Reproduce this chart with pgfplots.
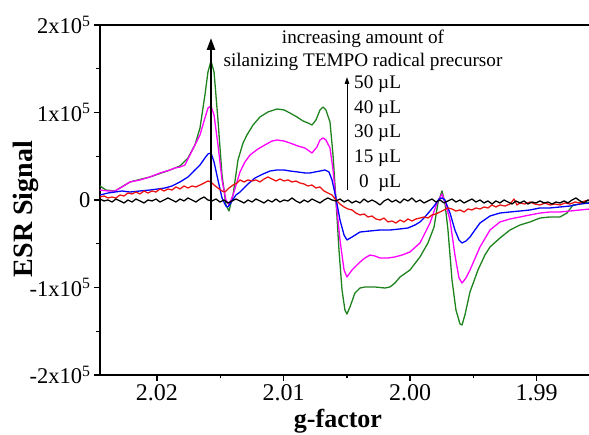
\documentclass[border=0pt]{standalone}
\usepackage{fontspec}
\setmainfont{Liberation Serif}
\usepackage{pgfplots}
\pgfplotsset{compat=1.18}
\usetikzlibrary{arrows.meta}
\definecolor{cgreen}{RGB}{30,130,30}
\definecolor{cmag}{RGB}{255,0,255}
\definecolor{cblue}{RGB}{0,0,255}
\definecolor{cred}{RGB}{235,20,20}
\begin{document}
\begin{tikzpicture}
\begin{axis}[
  scale only axis, width=490pt, height=350pt,
  at={(0pt,0pt)}, anchor=south west,
  x dir=reverse, xmin=1.98579, xmax=2.02450, ymin=-2, ymax=2,
  axis line style={line width=1.6pt},
  tick align=outside, tick pos=left,
  major tick length=6pt, minor tick length=3.5pt,
  every tick/.style={black, line width=1.4pt},
  xtick={2.02,2.01,2.00,1.99}, xticklabels={2.02,2.01,2.00,1.99},
  minor xtick={2.015,2.005,1.995},
  ytick={-2,-1,0,1,2},
  yticklabels={-2x10\textsuperscript{5},-1x10\textsuperscript{5},0,1x10\textsuperscript{5},2x10\textsuperscript{5}},
  minor ytick={-1.5,-0.5,0.5,1.5},
  xticklabel style={font=\fontsize{24}{24}\selectfont},
  yticklabel style={font=\fontsize{22.5}{22.5}\selectfont},
  every axis plot/.append style={line width=1.3pt, line join=round},
  clip=true,
]
% 50 uL
\addplot[cgreen] coordinates {
(2.02450,0.160)(2.02403,0.114)(2.02332,0.103)(2.02213,0.206)(2.02055,0.263)(2.01897,0.343)(2.01818,0.389)(2.01755,0.480)(2.01700,0.629)(2.01660,0.823)(2.01621,1.200)(2.01597,1.463)(2.01573,1.589)(2.01549,1.463)(2.01518,0.914)(2.01486,0.286)(2.01455,-0.057)(2.01431,-0.126)(2.01399,0.057)(2.01360,0.457)(2.01320,0.651)(2.01289,0.743)(2.01241,0.857)(2.01186,0.949)(2.01123,1.006)(2.01052,1.040)(2.00996,1.029)(2.00949,0.994)(2.00894,0.949)(2.00846,0.903)(2.00807,0.880)(2.00775,0.857)(2.00744,0.914)(2.00712,1.029)(2.00688,1.063)(2.00665,1.029)(2.00633,0.891)(2.00609,0.514)(2.00586,0)(2.00562,-0.571)(2.00538,-1.029)(2.00515,-1.257)(2.00499,-1.303)(2.00475,-1.223)(2.00436,-1.063)(2.00396,-1.006)(2.00357,-0.994)(2.00278,-0.994)(2.00199,-1.006)(2.00159,-0.994)(2.00120,-0.949)(2.00080,-0.880)(2.00001,-0.800)(1.99922,-0.651)(1.99859,-0.491)(1.99811,-0.309)(1.99780,-0.034)(1.99748,0.103)(1.99725,-0.034)(1.99701,-0.343)(1.99669,-0.914)(1.99638,-1.257)(1.99606,-1.417)(1.99590,-1.429)(1.99567,-1.314)(1.99527,-1.051)(1.99464,-0.800)(1.99409,-0.629)(1.99369,-0.537)(1.99290,-0.434)(1.99211,-0.343)(1.99132,-0.286)(1.99053,-0.251)(1.98974,-0.206)(1.98895,-0.194)(1.98816,-0.194)(1.98761,-0.149)(1.98713,-0.057)(1.98658,-0.046)(1.98579,-0.023)
};
% 40 uL
\addplot[cmag] coordinates {
(2.02450,0.114)(2.02387,0.103)(2.02332,0.103)(2.02276,0.149)(2.02213,0.206)(2.02134,0.229)(2.02055,0.263)(2.01976,0.309)(2.01897,0.343)(2.01858,0.366)(2.01818,0.377)(2.01779,0.400)(2.01739,0.514)(2.01700,0.629)(2.01660,0.743)(2.01621,0.937)(2.01597,1.051)(2.01573,1.074)(2.01549,0.971)(2.01518,0.629)(2.01486,0.229)(2.01455,0)(2.01431,-0.057)(2.01399,0.057)(2.01344,0.320)(2.01305,0.434)(2.01265,0.514)(2.01202,0.583)(2.01147,0.629)(2.01091,0.674)(2.01052,0.686)(2.00996,0.674)(2.00949,0.651)(2.00886,0.617)(2.00831,0.594)(2.00775,0.537)(2.00736,0.606)(2.00712,0.686)(2.00688,0.709)(2.00665,0.686)(2.00633,0.594)(2.00609,0.343)(2.00586,0)(2.00554,-0.457)(2.00522,-0.800)(2.00499,-0.880)(2.00459,-0.800)(2.00396,-0.709)(2.00357,-0.663)(2.00317,-0.629)(2.00278,-0.640)(2.00238,-0.663)(2.00175,-0.663)(2.00120,-0.651)(2.00064,-0.629)(2.00001,-0.594)(1.99922,-0.491)(1.99843,-0.263)(1.99788,-0.034)(1.99748,0.069)(1.99717,-0.057)(1.99685,-0.229)(1.99646,-0.629)(1.99614,-0.891)(1.99590,-0.949)(1.99559,-0.891)(1.99527,-0.800)(1.99448,-0.537)(1.99369,-0.343)(1.99290,-0.251)(1.99211,-0.217)(1.99132,-0.194)(1.99053,-0.171)(1.98974,-0.149)(1.98895,-0.137)(1.98816,-0.137)(1.98737,-0.126)(1.98658,-0.114)(1.98579,-0.103)
};
% 30 uL
\addplot[cblue] coordinates {
(2.02450,0.057)(2.02387,0.080)(2.02332,0.091)(2.02276,0.103)(2.02213,0.091)(2.02134,0.103)(2.02055,0.114)(2.01992,0.126)(2.01937,0.137)(2.01881,0.160)(2.01818,0.206)(2.01755,0.263)(2.01700,0.343)(2.01660,0.400)(2.01621,0.480)(2.01597,0.526)(2.01573,0.537)(2.01549,0.434)(2.01518,0.229)(2.01486,0.023)(2.01455,-0.069)(2.01439,-0.080)(2.01407,-0.011)(2.01376,0.057)(2.01344,0.091)(2.01281,0.183)(2.01226,0.251)(2.01162,0.297)(2.01107,0.331)(2.01052,0.343)(2.00996,0.343)(2.00949,0.331)(2.00886,0.320)(2.00831,0.309)(2.00791,0.309)(2.00752,0.320)(2.00712,0.331)(2.00673,0.343)(2.00641,0.320)(2.00617,0.229)(2.00586,0.023)(2.00554,-0.229)(2.00522,-0.400)(2.00499,-0.457)(2.00459,-0.423)(2.00396,-0.366)(2.00317,-0.354)(2.00238,-0.343)(2.00159,-0.343)(2.00080,-0.331)(2.00017,-0.320)(1.99962,-0.286)(1.99922,-0.251)(1.99883,-0.194)(1.99843,-0.126)(1.99804,-0.057)(1.99772,0.011)(1.99748,0.023)(1.99725,0)(1.99685,-0.149)(1.99646,-0.343)(1.99614,-0.457)(1.99590,-0.491)(1.99559,-0.469)(1.99527,-0.423)(1.99488,-0.343)(1.99448,-0.263)(1.99369,-0.183)(1.99290,-0.149)(1.99211,-0.137)(1.99132,-0.126)(1.99053,-0.114)(1.98974,-0.091)(1.98895,-0.091)(1.98816,-0.080)(1.98737,-0.069)(1.98658,-0.046)(1.98579,-0.034)
};
% 15 uL
\addplot[cred] coordinates {
(2.02450,0.034)(2.02418,0.046)(2.02387,0.023)(2.02355,0.034)(2.02324,0.023)(2.02292,0.057)(2.02260,0.046)(2.02229,0.080)(2.02197,0.069)(2.02166,0.091)(2.02134,0.069)(2.02102,0.103)(2.02071,0.080)(2.02039,0.103)(2.02008,0.091)(2.01976,0.126)(2.01944,0.103)(2.01913,0.126)(2.01881,0.114)(2.01850,0.149)(2.01818,0.126)(2.01786,0.160)(2.01755,0.137)(2.01723,0.160)(2.01692,0.149)(2.01660,0.171)(2.01628,0.194)(2.01597,0.217)(2.01573,0.206)(2.01549,0.171)(2.01518,0.137)(2.01486,0.103)(2.01463,0.091)(2.01431,0.137)(2.01399,0.171)(2.01368,0.194)(2.01344,0.229)(2.01312,0.206)(2.01281,0.229)(2.01249,0.217)(2.01218,0.229)(2.01186,0.206)(2.01154,0.240)(2.01123,0.263)(2.01091,0.240)(2.01060,0.217)(2.01028,0.240)(2.00996,0.217)(2.00965,0.229)(2.00933,0.206)(2.00902,0.217)(2.00870,0.194)(2.00838,0.183)(2.00807,0.160)(2.00775,0.171)(2.00744,0.137)(2.00712,0.149)(2.00680,0.103)(2.00649,0.080)(2.00617,0.057)(2.00586,0)(2.00554,-0.046)(2.00522,-0.080)(2.00491,-0.103)(2.00459,-0.114)(2.00428,-0.149)(2.00396,-0.171)(2.00364,-0.160)(2.00333,-0.194)(2.00301,-0.183)(2.00270,-0.217)(2.00238,-0.229)(2.00206,-0.206)(2.00175,-0.251)(2.00143,-0.240)(2.00112,-0.263)(2.00080,-0.229)(2.00048,-0.251)(2.00017,-0.217)(1.99985,-0.240)(1.99954,-0.217)(1.99922,-0.206)(1.99890,-0.194)(1.99859,-0.206)(1.99827,-0.171)(1.99796,-0.160)(1.99764,-0.137)(1.99732,-0.114)(1.99701,-0.091)(1.99669,-0.103)(1.99638,-0.126)(1.99606,-0.114)(1.99574,-0.137)(1.99543,-0.103)(1.99511,-0.114)(1.99480,-0.091)(1.99448,-0.103)(1.99416,-0.080)(1.99385,-0.091)(1.99353,-0.057)(1.99322,-0.080)(1.99290,-0.057)(1.99251,-0.069)(1.99211,-0.046)(1.99179,0.011)(1.99156,-0.057)(1.99132,-0.034)(1.99093,-0.046)(1.99053,-0.023)(1.99014,-0.046)(1.98974,-0.057)(1.98935,-0.034)(1.98895,-0.057)(1.98856,-0.046)(1.98816,-0.057)(1.98777,-0.034)(1.98737,-0.046)(1.98696,-0.023)(1.98658,-0.034)(1.98619,-0.011)(1.98579,0)
};
% 0 uL
\addplot[black] coordinates {
(2.02450,0.011)(2.02418,-0.011)(2.02387,0)(2.02355,-0.023)(2.02324,0.011)(2.02292,-0.011)(2.02260,-0.034)(2.02229,0)(2.02197,-0.023)(2.02166,0.011)(2.02134,-0.011)(2.02102,-0.034)(2.02071,0)(2.02039,-0.011)(2.02008,0.011)(2.01976,-0.023)(2.01944,0)(2.01913,0.023)(2.01881,0)(2.01850,-0.023)(2.01818,0.011)(2.01786,-0.011)(2.01755,0.023)(2.01723,0)(2.01692,-0.023)(2.01660,0.011)(2.01628,0.034)(2.01597,0)(2.01565,-0.011)(2.01534,0.011)(2.01502,-0.023)(2.01470,0)(2.01439,-0.034)(2.01407,-0.011)(2.01376,0.011)(2.01344,-0.011)(2.01312,-0.034)(2.01281,0)(2.01249,-0.023)(2.01218,0.011)(2.01186,-0.011)(2.01154,-0.034)(2.01123,0)(2.01091,-0.023)(2.01060,0.011)(2.01028,-0.023)(2.00996,0)(2.00965,-0.011)(2.00933,0.023)(2.00902,-0.011)(2.00870,-0.034)(2.00838,0)(2.00807,-0.023)(2.00775,0.011)(2.00744,-0.011)(2.00712,-0.034)(2.00680,0)(2.00649,0.023)(2.00617,0)(2.00586,-0.011)(2.00554,0.011)(2.00522,-0.023)(2.00491,0)(2.00459,-0.034)(2.00428,-0.011)(2.00396,-0.034)(2.00364,0.011)(2.00333,-0.023)(2.00301,0)(2.00270,-0.023)(2.00238,-0.057)(2.00206,-0.011)(2.00175,0.011)(2.00143,-0.023)(2.00112,0)(2.00080,-0.034)(2.00048,0.011)(2.00017,-0.011)(1.99985,0.023)(1.99954,-0.023)(1.99922,0)(1.99890,-0.034)(1.99859,-0.011)(1.99827,0.011)(1.99796,-0.023)(1.99764,0)(1.99732,-0.034)(1.99701,-0.011)(1.99669,0.011)(1.99638,-0.023)(1.99606,0)(1.99574,-0.034)(1.99543,-0.011)(1.99511,0.011)(1.99480,-0.023)(1.99448,0)(1.99416,-0.034)(1.99385,-0.011)(1.99353,-0.046)(1.99322,-0.011)(1.99290,-0.034)(1.99258,0)(1.99227,-0.023)(1.99195,-0.046)(1.99164,-0.011)(1.99132,-0.034)(1.99100,-0.011)(1.99069,-0.046)(1.99037,-0.023)(1.99006,-0.034)(1.98974,-0.011)(1.98942,-0.034)(1.98911,-0.023)(1.98879,-0.046)(1.98848,-0.023)(1.98816,-0.034)(1.98784,-0.011)(1.98753,-0.034)(1.98721,0)(1.98690,0.023)(1.98658,-0.011)(1.98626,-0.034)(1.98595,0)(1.98579,-0.011)
};
\end{axis}
% annotations (pt relative to axis box south west)
\draw[line width=2.5pt, -{Triangle[width=8pt,length=12pt]}] (111pt,155pt) -- (111pt,337pt);
\draw[line width=1pt, -{Triangle[width=4.5pt,length=7pt]}] (247pt,185pt) -- (247pt,298pt);
\begin{scope}[every node/.style={inner sep=0pt, font=\fontsize{19.2}{19.2}\selectfont}]
\node[anchor=base] at (263pt,331pt) {increasing amount of};
\node[anchor=base] at (263pt,308pt) {silanizing TEMPO radical precursor};
\node[anchor=base west] at (254pt,286pt) {50 µL};
\node[anchor=base west] at (254pt,261.5pt) {40 µL};
\node[anchor=base west] at (254pt,237pt) {30 µL};
\node[anchor=base west] at (254pt,212pt) {15 µL};
\node[anchor=base west] at (259pt,187pt) {0~~µL};
\end{scope}
\node[anchor=base, inner sep=0pt, font=\fontsize{26}{26}\selectfont\bfseries] at (238pt,-53pt) {g-factor};
\node[anchor=base, rotate=90, inner sep=0pt, font=\fontsize{28}{28}\selectfont\bfseries] at (-67pt,166pt) {ESR Signal};
\pgfresetboundingbox
\path[use as bounding box] (-100pt,-60pt) rectangle (489pt,375pt);
\end{tikzpicture}
\end{document}
